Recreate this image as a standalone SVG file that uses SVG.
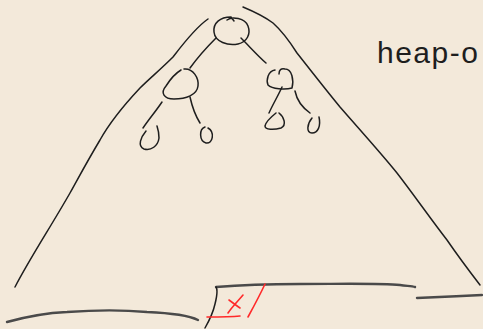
<svg xmlns="http://www.w3.org/2000/svg" width="483" height="329" viewBox="0 0 483 329">
<style>
.ink{fill:none;stroke:#1e1e1e;stroke-width:1.5;stroke-linecap:round;stroke-linejoin:round}
.gnd{fill:none;stroke:#4a4a4a;stroke-width:2.4;stroke-linecap:round}
.red{fill:none;stroke:#ff2a2a;stroke-width:1.6;stroke-linecap:round}
.txt{font-family:"Liberation Sans","DejaVu Sans",sans-serif;font-size:30px;fill:#1e1e1e;letter-spacing:1.5px}
</style>
<rect width="483" height="329" fill="#f3e9da"/>
<g id="triangle">
<path class="ink" d="M208,19 C195,28 183,44 173,57 C160,70 150,78 140,88 C125,104 110,122 100,140 C88,160 80,175 70,193 C50,228 30,258 15,287"/>
<path class="ink" d="M243,7 C255,12 265,17 273,23 C282,31 290,42 297,53 C312,72 326,90 340,107 C360,130 380,152 397,173 C414,195 430,218 447,240 C458,256 470,272 480,285"/>
</g>
<g id="connectors">
<path class="ink" d="M216,38 C207,47 198,57 190,68"/>
<path class="ink" d="M241,38 C250,47 258,56 266,63"/>
<path class="ink" d="M162,102 C156,111 149,119 143,128"/>
<path class="ink" d="M190,97 C192,106 195,115 200,123"/>
<path class="ink" d="M282,87 C278,96 273,104 269,113"/>
<path class="ink" d="M295,91 C297,101 303,108 310,113"/>
</g>
<g id="root"><path class="ink" d="M227,20 C232,16 245,18 248,26 C251,34 247,42 238,44 C228,46 215,42 214,32 C213,23 220,17 231,17 L234,21"/></g>
<g id="left-child"><path class="ink" d="M184,69 C193,68 199,78 198,86 C197,95 186,99 174,99 C164,99 160,93 166,86 C171,78 176,73 181,70"/></g>
<g id="right-child"><path class="ink" d="M275,70 C268,71 266,80 268,85 C272,89 285,90 292,88 C294,80 292,69 285,69 C281,68 279,70 279,74"/></g>
<g id="leaf-ll"><path class="ink" d="M146,131 C141,137 137,146 144,149 C151,151 158,146 159,138 C159,133 158,129 157,126"/></g>
<g id="leaf-lr"><path class="ink" d="M205,127 C199,129 199,141 206,143 C213,144 215,132 208,128"/></g>
<g id="leaf-rl"><path class="ink" d="M279,113 C284,117 287,125 281,128 C274,130 265,130 265,126 C266,121 271,117 276,113"/></g>
<g id="leaf-rr"><path class="ink" d="M312,118 C307,124 306,133 312,133 C318,133 321,126 319,117"/></g>
<text class="txt" x="377" y="63">heap-o</text>
<g id="ground">
<path class="gnd" d="M7,322 C25,317 45,313 67,312 C95,310 125,310 147,312 C170,313 188,315 198,320"/>
<path class="gnd" d="M216,287 C240,285 260,284 300,284 C340,284 380,283 400,285 C407,286 412,286 415,287"/>
<path class="gnd" d="M417,298 C440,297 460,296 482,295"/>
<path class="ink" d="M216,287 C218,290 217,296 215,304 C213,313 209,321 205,328"/>
</g>
<g id="marks">
<path class="red" d="M207,317 C218,317 230,317 240,316"/>
<path class="red" d="M243,295 C238,301 232,307 228,313"/>
<path class="red" d="M229,300 C233,303 237,306 240,308"/>
<path class="red" d="M265,284 C260,295 254,306 248,317"/>
</g>
</svg>
